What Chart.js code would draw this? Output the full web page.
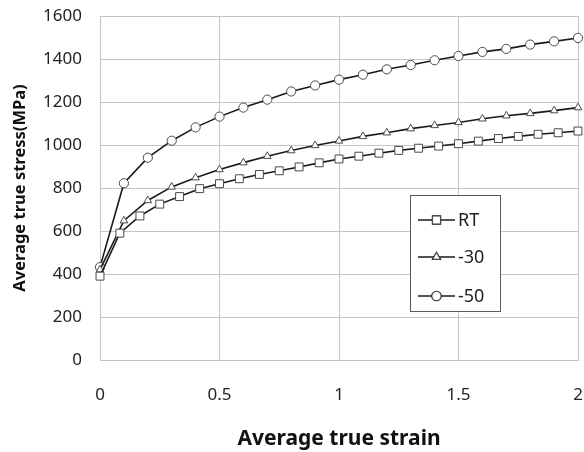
<!DOCTYPE html>
<html>
<head>
<meta charset="utf-8">
<script src="https://cdn.jsdelivr.net/npm/chart.js"></script>
<style>
  html, body { margin: 0; padding: 0; background: #fff; }
  #wrap { width: 584px; height: 452px; }
</style>
</head>
<body>
<div id="wrap"><canvas id="stress_strain_chart" width="584" height="452"></canvas></div>
<script>
// strain / stress readings taken off the original figure
const strain_rt = [0, 0.083, 0.167, 0.25, 0.333, 0.417, 0.5, 0.583, 0.667, 0.75, 0.833, 0.917, 1,
  1.083, 1.167, 1.25, 1.333, 1.417, 1.5, 1.583, 1.667, 1.75, 1.833, 1.917, 2]
const stress_rt = [390, 590, 670, 725, 760, 797, 820, 843, 863, 880, 898, 917, 935,
  948, 962, 975, 985, 995, 1006, 1018, 1030, 1040, 1050, 1057, 1065]

const strain_low = [0, 0.1, 0.2, 0.3, 0.4, 0.5, 0.6, 0.7, 0.8, 0.9, 1,
  1.1, 1.2, 1.3, 1.4, 1.5, 1.6, 1.7, 1.8, 1.9, 2]
const stress_m30 = [420, 648, 742, 805, 848, 886, 918, 948, 974, 998, 1019,
  1040, 1057, 1076, 1091, 1105, 1122, 1136, 1147, 1160, 1174]
const stress_m50 = [432, 822, 941, 1020, 1082, 1132, 1174, 1211, 1249, 1277, 1304,
  1327, 1352, 1372, 1394, 1414, 1433, 1447, 1467, 1482, 1498]

const series_labels = ['RT', '-30', '-50']
const x_ticks = [0, 0.5, 1, 1.5, 2]
const y_ticks = [0, 200, 400, 600, 800, 1000, 1200, 1400, 1600]

const font_family = "'Noto Sans', 'DejaVu Sans', sans-serif"
const line_color = '#1a1a1a'
const marker_color = '#4a4a4a'
const grid_color = '#c4c4c4'

function to_points(xs, ys) {
  return xs.map((x, i) => ({x: x, y: ys[i]}))
}

const marker_styles = [
  {pointStyle: 'rect', pointRadius: 5.6},
  {pointStyle: 'triangle', pointRadius: 4.4},
  {pointStyle: 'circle', pointRadius: 4.6}
]

// legend box drawn inside the plot, like the excel original
const inner_legend = {
  id: 'inner_legend',
  afterDraw(chart) {
    const ctx = chart.ctx
    const box = {x: 410.5, y: 195.5, w: 90, h: 116}
    ctx.save()
    ctx.fillStyle = '#ffffff'
    ctx.fillRect(box.x, box.y, box.w, box.h)
    ctx.strokeStyle = '#5a5a5a'
    ctx.lineWidth = 1
    ctx.strokeRect(box.x, box.y, box.w, box.h)
    const rows = [220, 257, 296]
    chart.data.datasets.forEach((ds, i) => {
      const y = rows[i]
      ctx.strokeStyle = line_color
      ctx.lineWidth = 1.5
      ctx.beginPath()
      ctx.moveTo(418, y)
      ctx.lineTo(455, y)
      ctx.stroke()
      Chart.helpers.drawPoint(ctx, {
        pointStyle: ds.pointStyle,
        radius: ds.pointRadius,
        rotation: 0,
        borderWidth: 1
      }, 436.5, y)
      ctx.fillStyle = '#ffffff'
      ctx.strokeStyle = marker_color
      ctx.lineWidth = 1
      ctx.fill()
      ctx.stroke()
      ctx.fillStyle = '#222'
      ctx.font = "18px " + font_family
      ctx.textBaseline = 'middle'
      ctx.textAlign = 'left'
      ctx.fillText(ds.label, 458, y + 1)
    })
    ctx.restore()
  }
}

const ctx = document.getElementById('stress_strain_chart').getContext('2d')

const stress_strain_chart = new Chart(ctx, {
  type: 'scatter',
  data: {
    datasets: [
      {label: series_labels[0], data: to_points(strain_rt, stress_rt), ...marker_styles[0]},
      {label: series_labels[1], data: to_points(strain_low, stress_m30), ...marker_styles[1]},
      {label: series_labels[2], data: to_points(strain_low, stress_m50), ...marker_styles[2]}
    ].map(ds => Object.assign(ds, {
      showLine: true,
      clip: false,
      borderColor: line_color,
      borderWidth: 1.6,
      pointBackgroundColor: '#ffffff',
      pointBorderColor: marker_color,
      pointBorderWidth: 1,
      tension: 0
    }))
  },
  options: {
    responsive: false,
    animation: false,
    layout: {padding: {top: 16, right: 6, left: 0, bottom: 0}, autoPadding: false},
    plugins: {
      legend: {display: false},
      tooltip: {enabled: false}
    },
    scales: {
      x: {
        type: 'linear',
        min: 0,
        max: 2,
        afterBuildTicks: axis => { axis.ticks = x_ticks.map(v => ({value: v})) },
        afterFit: axis => {
          axis.height = 92
          axis.paddingLeft = 0
          axis.paddingRight = 0
        },
        grid: {color: grid_color, drawTicks: false},
        border: {color: grid_color},
        ticks: {
          padding: 25,
          color: '#222',
          font: {family: font_family, size: 17},
          callback: v => String(v)
        },
        title: {
          display: true,
          text: 'Average true strain',
          color: '#111',
          padding: {top: 0, bottom: 0},
          font: {family: font_family, size: 21, weight: 'bold'}
        }
      },
      y: {
        type: 'linear',
        min: 0,
        max: 1600,
        afterBuildTicks: axis => { axis.ticks = y_ticks.map(v => ({value: v})) },
        afterFit: axis => {
          axis.width = 100
          axis.paddingTop = 0
          axis.paddingBottom = 0
        },
        grid: {color: grid_color, drawTicks: false},
        border: {color: grid_color},
        ticks: {
          padding: 18,
          color: '#222',
          font: {family: font_family, size: 17},
          callback: v => String(v)
        },
        title: {
          display: true,
          text: 'Average true stress(MPa)',
          color: '#111',
          padding: {top: 10, bottom: 0},
          font: {family: font_family, size: 16.5, weight: 'bold'}
        }
      }
    }
  },
  plugins: [inner_legend]
})
</script>
</body>
</html>
